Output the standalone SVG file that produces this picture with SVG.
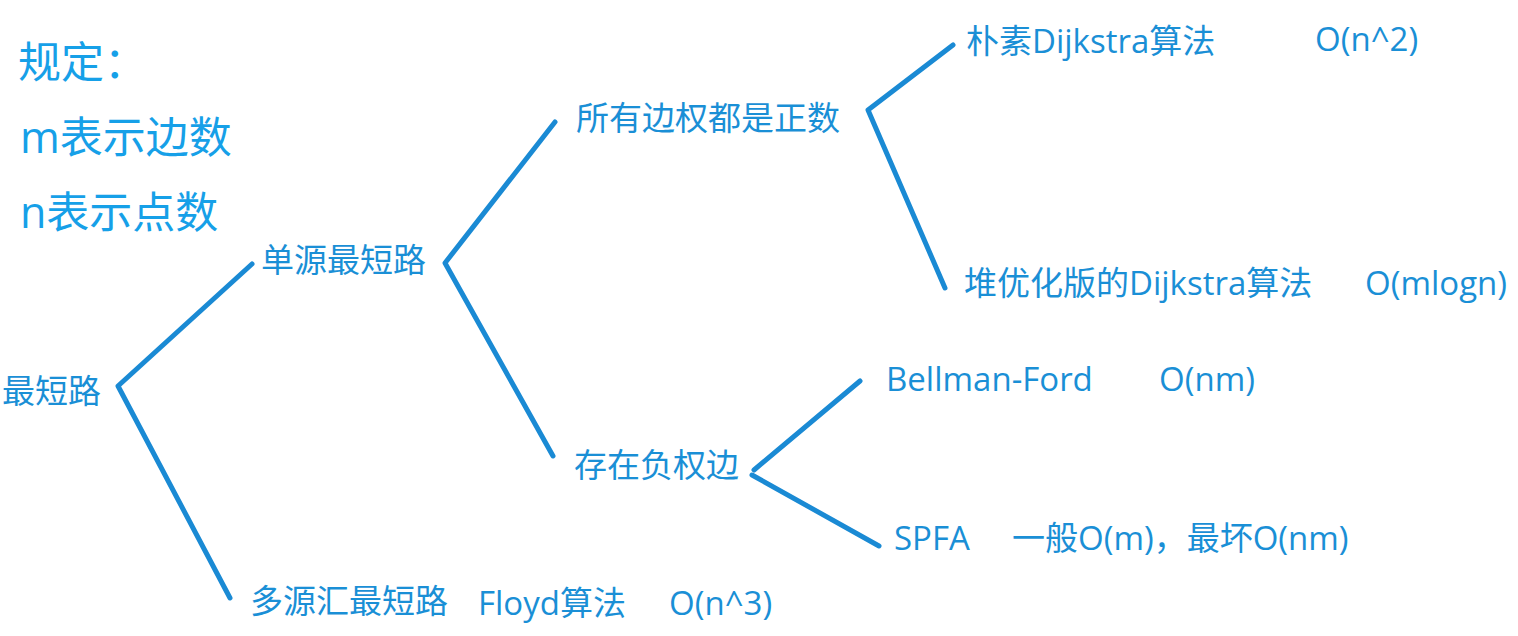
<svg xmlns="http://www.w3.org/2000/svg" width="1518" height="636" viewBox="0 0 1518 636">
<style>
.t{font-family:"Open Sans","Noto Sans CJK SC",sans-serif;font-size:33px;fill:#1a8fd6}
.h{font-family:"Open Sans","Noto Sans CJK SC",sans-serif;font-size:43px;fill:#16a0e8}
.c{stroke:#1a8ad4;stroke-width:5;fill:none;stroke-linecap:round;stroke-linejoin:round}
</style>
<rect width="1518" height="636" fill="#ffffff"/>
<g id="legend">
<text class="h" x="18" y="78">规定：</text>
<text class="h" x="20" y="153">m表示边数</text>
<text class="h" x="20" y="228">n表示点数</text>
</g>
<g id="connectors">
<polyline class="c" points="252,264 118,386 230,598"/>
<polyline class="c" points="555,122 445,263 553,456"/>
<polyline class="c" points="953,45 868,110 945,288"/>
<polyline class="c" points="860,381 754,470"/>
<polyline class="c" points="752,475 879,546"/>
</g>
<g id="n-root"><text class="t" x="2" y="403">最短路</text></g>
<g id="n-single"><text class="t" x="261" y="272">单源最短路</text></g>
<g id="n-positive"><text class="t" x="576" y="130">所有边权都是正数</text></g>
<g id="n-naive"><text class="t" x="966" y="53">朴素Dijkstra算法</text><text class="t" x="1315" y="51">O(n^2)</text></g>
<g id="n-heap"><text class="t" x="964" y="295">堆优化版的Dijkstra算法</text><text class="t" x="1365" y="295">O(mlogn)</text></g>
<g id="n-negative"><text class="t" x="574" y="477">存在负权边</text></g>
<g id="n-bellman"><text class="t" x="886" y="391">Bellman-Ford</text><text class="t" x="1159" y="391">O(nm)</text></g>
<g id="n-spfa"><text class="t" x="894" y="550">SPFA</text><text class="t" x="1012" y="550">一般O(m)，最坏O(nm)</text></g>
<g id="n-multi"><text class="t" x="250" y="613">多源汇最短路</text><text class="t" x="478" y="615">Floyd算法</text><text class="t" x="669" y="615">O(n^3)</text></g>
</svg>
